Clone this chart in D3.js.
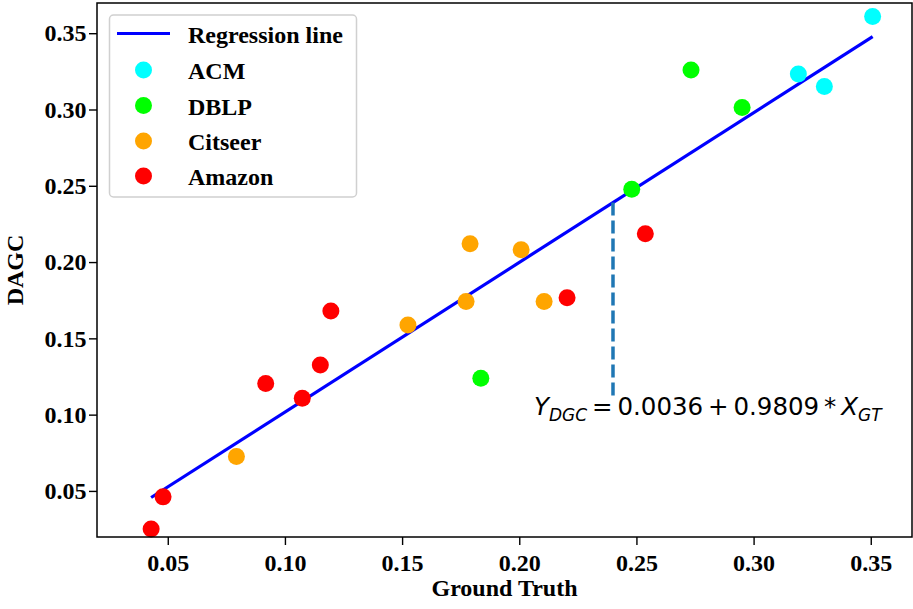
<!DOCTYPE html>
<html>
<head>
<meta charset="utf-8">
<script src="https://cdn.jsdelivr.net/npm/d3@7"></script>
<style>
  body { margin: 0; background: #fff; }
</style>
</head>
<body>
<div id="chart"></div>
<script>
// Scatter values (ground truth vs DAGC)
const series_names = ['ACM', 'DBLP', 'Citseer', 'Amazon'];
const series_colours = ['#00ffff', '#00ff00', '#ffa500', '#ff0000'];

const acm_x = [0.3191, 0.3302, 0.3508];
const acm_y = [0.3232, 0.3151, 0.3610];

const dblp_x = [0.1836, 0.2480, 0.2733, 0.2951];
const dblp_y = [0.1239, 0.2478, 0.3259, 0.3013];

const citseer_x = [0.0793, 0.1525, 0.1773, 0.1790, 0.2008, 0.2106];
const citseer_y = [0.0725, 0.1587, 0.1741, 0.2120, 0.2080, 0.1741];

const amazon_x = [0.0429, 0.0480, 0.0918, 0.1074, 0.1151, 0.1196, 0.2204, 0.2538];
const amazon_y = [0.0251, 0.0461, 0.1204, 0.1108, 0.1326, 0.1680, 0.1766, 0.2185];

// Regression fit Y = a + b * X
const reg_intercept = 0.0036;
const reg_slope = 0.9809;
const marker_x = 0.24;      // dashed guide
const marker_y_low = 0.11;

const x_ticks = [0.05, 0.10, 0.15, 0.20, 0.25, 0.30, 0.35];
const y_ticks = [0.05, 0.10, 0.15, 0.20, 0.25, 0.30, 0.35];

const SERIF = '"Liberation Serif", "Times New Roman", serif';

function DagcPlotter() {
  this._width = 913;
  this._height = 609;
  this._left = 97;
  this._right = 912;
  this._top = 3;
  this._bottom = 537;
  this._font_size = 24;
  this._dot_radius = 8.5;
  this._legend_rows = [33.5, 70, 105.5, 141, 176];
}

DagcPlotter.prototype._scales = function() {
  this.x = d3.scaleLinear().domain([0.0198, 0.3676]).range([this._left, this._right]);
  this.y = d3.scaleLinear().domain([0.0198, 0.3698]).range([this._bottom, this._top]);
}

DagcPlotter.prototype._axes = function(svg) {
  let self = this;
  let xa = svg.append('g')
    .attr('transform', 'translate(0,' + this._bottom + ')')
    .call(d3.axisBottom(this.x).tickValues(x_ticks).tickFormat(d3.format('.2f')).tickSize(8).tickPadding(9));
  let ya = svg.append('g')
    .attr('transform', 'translate(' + this._left + ',0)')
    .call(d3.axisLeft(this.y).tickValues(y_ticks).tickFormat(d3.format('.2f')).tickSize(8).tickPadding(2.5));
  [xa, ya].forEach(function(g) {
    g.attr('font-family', SERIF).attr('font-weight', 'bold').attr('font-size', self._font_size);
    g.select('.domain').remove();
    g.selectAll('line').attr('stroke', '#000').attr('stroke-width', 1.4);
    g.selectAll('text').attr('fill', '#000');
  });

  svg.append('rect')
    .attr('x', this._left)
    .attr('y', this._top)
    .attr('width', this._right - this._left)
    .attr('height', this._bottom - this._top)
    .attr('fill', 'none')
    .attr('stroke', '#000')
    .attr('stroke-width', 1.5);

  svg.append('text')
    .attr('x', (this._left + this._right) / 2)
    .attr('y', 596)
    .attr('text-anchor', 'middle')
    .attr('font-family', SERIF).attr('font-weight', 'bold')
    .attr('font-size', this._font_size)
    .text('Ground Truth');

  svg.append('text')
    .attr('transform', 'translate(23,' + ((this._top + this._bottom) / 2) + ') rotate(-90)')
    .attr('text-anchor', 'middle')
    .attr('font-family', SERIF).attr('font-weight', 'bold')
    .attr('font-size', this._font_size)
    .text('DAGC');
}

DagcPlotter.prototype._plot_fit = function(svg, xs) {
  let x0 = d3.min(xs), x1 = d3.max(xs);
  let fit = d => reg_intercept + reg_slope * d;
  svg.append('line')
    .attr('x1', this.x(x0)).attr('y1', this.y(fit(x0)))
    .attr('x2', this.x(x1)).attr('y2', this.y(fit(x1)))
    .attr('stroke', '#0000ff')
    .attr('stroke-width', 3.2);

  svg.append('line')
    .attr('x1', this.x(marker_x)).attr('y1', this.y(fit(marker_x)))
    .attr('x2', this.x(marker_x)).attr('y2', this.y(marker_y_low))
    .attr('stroke', '#1f77b4')
    .attr('stroke-width', 3.5)
    .attr('stroke-dasharray', '13,5');
}

DagcPlotter.prototype._plot_points = function(svg, groups) {
  let self = this;
  svg.append('g')
    .selectAll('g')
    .data(groups)
    .join('g')
    .attr('fill', (d, i) => series_colours[i])
    .selectAll('circle')
    .data(d => d.xs.map((v, j) => ({x: v, y: d.ys[j]})))
    .join('circle')
    .attr('cx', d => self.x(d.x))
    .attr('cy', d => self.y(d.y))
    .attr('r', this._dot_radius);
}

DagcPlotter.prototype._equation = function(svg) {
  let t = svg.append('text')
    .attr('x', this.x(0.2063))
    .attr('y', this.y(0.10))
    .attr('font-size', 24.5)
    .attr('font-family', '"DejaVu Sans", sans-serif')
    .attr('fill', '#000');
  t.append('tspan').attr('font-style', 'italic').text('Y');
  t.append('tspan').attr('font-style', 'italic').attr('font-size', 17).attr('dy', 6).text('DGC');
  t.append('tspan').attr('dy', -6).text('\u2009=\u20090.0036\u2009+\u20090.9809\u2009*\u2009');
  t.append('tspan').attr('font-style', 'italic').text('X');
  t.append('tspan').attr('font-style', 'italic').attr('font-size', 17).attr('dy', 6).text('GT');
}

DagcPlotter.prototype._legend = function(svg) {
  let rows = this._legend_rows;
  let lg = svg.append('g').attr('class', 'legend');
  lg.append('rect')
    .attr('x', 109.5).attr('y', 15)
    .attr('width', 247).attr('height', 182)
    .attr('rx', 4)
    .attr('fill', '#fff').attr('fill-opacity', 0.8)
    .attr('stroke', '#d0d0d0').attr('stroke-width', 1.5);

  lg.append('line')
    .attr('x1', 117).attr('x2', 170)
    .attr('y1', rows[0]).attr('y2', rows[0])
    .attr('stroke', '#0000ff').attr('stroke-width', 3.2);

  lg.selectAll('circle')
    .data(series_names)
    .join('circle')
    .attr('cx', 143.5)
    .attr('cy', (d, i) => rows[i + 1])
    .attr('r', this._dot_radius)
    .attr('fill', (d, i) => series_colours[i]);

  lg.selectAll('text')
    .data(['Regression line'].concat(series_names))
    .join('text')
    .attr('x', 188)
    .attr('y', (d, i) => rows[i] + 9)
    .attr('font-family', SERIF).attr('font-weight', 'bold')
    .attr('font-size', this._font_size)
    .text(d => d);
}

DagcPlotter.prototype.plot = function(container) {
  this._scales();
  let svg = d3.select(container).append('svg')
    .attr('width', this._width)
    .attr('height', this._height);

  let groups = [
    {xs: acm_x, ys: acm_y},
    {xs: dblp_x, ys: dblp_y},
    {xs: citseer_x, ys: citseer_y},
    {xs: amazon_x, ys: amazon_y},
  ];
  let all_x = [].concat(acm_x, dblp_x, citseer_x, amazon_x);

  this._plot_fit(svg, all_x);
  this._plot_points(svg, groups);
  this._equation(svg);
  this._axes(svg);
  this._legend(svg);
}

new DagcPlotter().plot('#chart');
</script>
</body>
</html>
